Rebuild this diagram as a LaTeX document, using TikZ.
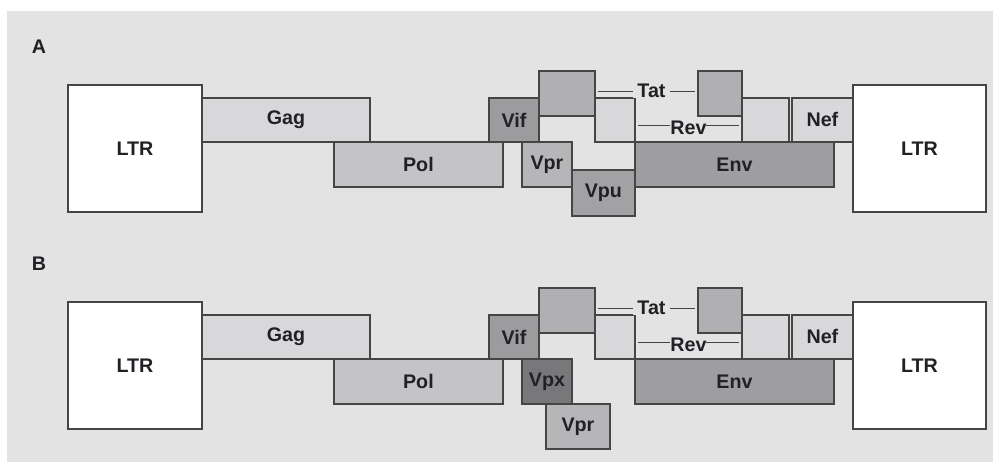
\documentclass[tikz,border=0pt]{standalone}
\usepackage{fontspec}
\setmainfont{Liberation Sans}
\usepackage{tikz}
\usetikzlibrary{positioning}
\definecolor{panelgray}{HTML}{E3E3E3}
\definecolor{edgegray}{HTML}{454545}
\definecolor{inkdark}{HTML}{222024}
\definecolor{lightgene}{HTML}{D8D8DA}
\definecolor{polgray}{HTML}{C4C4C6}
\definecolor{tatgray}{HTML}{B0B0B2}
\definecolor{vprgray}{HTML}{B6B6B8}
\definecolor{vifgray}{HTML}{9C9C9F}
\definecolor{envgray}{HTML}{9E9EA1}
\definecolor{vpugray}{HTML}{A2A2A5}
\definecolor{vpxgray}{HTML}{78787B}
\newcommand{\genefont}{\fontsize{14}{16}\selectfont\bfseries}

\begin{document}
\begin{tikzpicture}[x=0.025cm, y=-0.025cm,
    gene/.style={draw=edgegray, line width=1.3pt, anchor=north west, inner sep=0pt, font=\genefont, text=inkdark},
    link/.style={draw=edgegray, line width=0.7pt, shorten <=0.06cm, shorten >=0.06cm},
    linklabel/.style={fill=panelgray, inner xsep=3pt, inner ysep=0pt, font=\genefont, text=inkdark}]
  \useasboundingbox (0,0) rectangle (993,462);
  \fill[panelgray] (7,11) rectangle (993,462);

  % genes shared by both panels
  \foreach \p/\dy in {A/0, B/217} {
    \node[font=\genefont, text=inkdark] (\p-tag) at (39,{47+\dy}) {\p};
    \foreach \nm/\xa/\ya/\xb/\yb/\col/\txt in {ltrl/67/84/201/211/white/LTR, gag/201/97/369/141/lightgene/Gag,
        pol/333/141/502/186/polgray/Pol, vif/488/97/538/141/vifgray/Vif, tat1/538/70/594/115/tatgray/{},
        rev1/594/97/634/141/lightgene/{}, env/634/141/833/186/envgray/Env, tat2/697/70/741/115/tatgray/{},
        rev2/741/97/788/141/lightgene/{}, nef/791/97/852/141/lightgene/Nef, ltrr/852/84/985/211/white/LTR} {
      \node[gene, fill=\col, minimum width={(\xb-\xa)*0.025cm}, minimum height={(\yb-\ya)*0.025cm}] (\p-\nm) at (\xa,{\ya+\dy}) {\txt};
    }
    \draw[link] ([yshift=0.06cm]\p-tat1.east) -- node[linklabel, pos=0.55] (\p-tatlbl) {Tat} ([yshift=0.06cm]\p-tat2.west);
    \draw[link] ([yshift=-0.15cm]\p-rev1.east) -- node[linklabel, inner xsep=0pt, yshift=-0.05cm] (\p-revlbl) {Rev} ([yshift=-0.15cm]\p-rev2.west);
  }

  % panel A: vpr and vpu
  \node[gene, fill=vprgray, minimum width=1.25cm, minimum height=1.125cm] (A-vpr) at (521,141) {Vpr};
  \node[gene, fill=vpugray, minimum width=1.575cm, minimum height=1.15cm] (A-vpu) at (571,169) {Vpu};

  % panel B: vpx and vpr
  \node[gene, fill=vpxgray, minimum width=1.25cm, minimum height=1.125cm] (B-vpx) at (521,358) {Vpx};
  \node[gene, fill=vprgray, minimum width=1.6cm, minimum height=1.125cm] (B-vpr) at (545,403) {Vpr};
\end{tikzpicture}
\end{document}
